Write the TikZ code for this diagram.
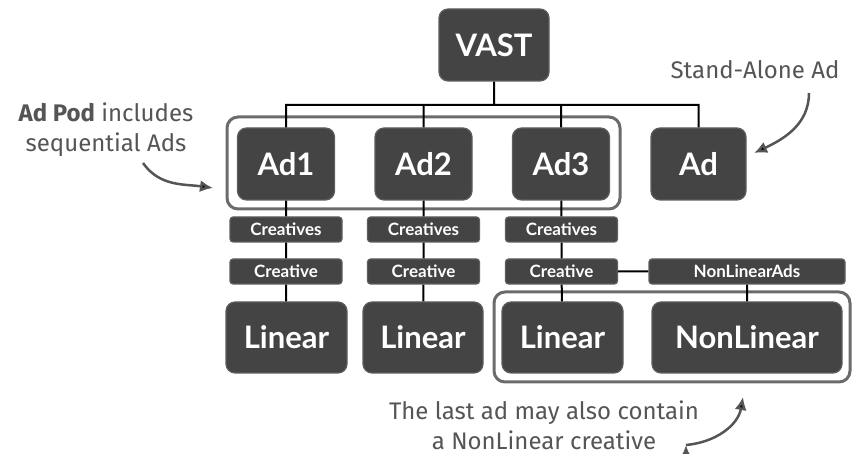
\documentclass[tikz,border=0pt]{standalone}
\usepackage{fontspec}
\setmainfont{Lato}
\newfontfamily\notefont{Fira Sans}
\usetikzlibrary{arrows.meta}
\definecolor{boxgray}{HTML}{444444}
\definecolor{boxedge}{HTML}{5E5E5E}
\definecolor{podgray}{HTML}{6B6B6B}
\definecolor{notegray}{HTML}{555555}

\begin{document}
\begin{tikzpicture}[x=1pt,y=-1pt,
	box/.style={draw=boxedge,fill=boxgray,line width=1.2pt,rounded corners=9pt,text=white,inner sep=0pt},
	bigbox/.style={box,minimum height=72pt,font=\fontsize{31}{31}\selectfont\bfseries},
	tag/.style={box,rounded corners=3pt,minimum width=112pt,minimum height=25pt,font=\fontsize{17}{17}\selectfont\bfseries},
	pod/.style={draw=podgray,line width=3pt,rounded corners=11pt,inner sep=0pt},
	wire/.style={draw=black,line width=2pt},
	note/.style={text=notegray,font=\notefont\fontsize{24}{30}\selectfont,align=center},
	pointer/.style={draw=notegray,line width=2.5pt,-{Latex[length=13pt,width=12pt]}}]
	\useasboundingbox (0,0) rectangle (852,454);
	        \node[pod,minimum width=393pt,minimum height=92pt] at (423.5,163) (adpod) {};
	        \node[pod,minimum width=356pt,minimum height=90pt] at (672,337) (lastpod) {};
		
	        \node[bigbox,minimum width=110pt] at (494,45)   (vast) {VAST};
	        \node[bigbox,minimum width=97pt] at (286,164)  (ad1) {Ad1};
	        \node[bigbox,minimum width=97pt] at (423.5,164)  (ad2) {Ad2};
	        \node[bigbox,minimum width=97pt] at (561,164)  (ad3) {Ad3};
	        \node[bigbox,minimum width=95pt] at (698.5,164)  (ad) {Ad};
		
	        \node[tag] at (286,229.5)  (cs1) {Creatives};
	        \node[tag] at (423.5,229.5)  (cs2) {Creatives};
	        \node[tag] at (561.5,229.5)  (cs3) {Creatives};
	        \node[tag] at (286,271.5)  (c1) {Creative};
	        \node[tag] at (423.5,271.5)  (c2) {Creative};
	        \node[tag] at (561.5,271.5)  (c3) {Creative};
	        \node[tag,minimum width=196pt] at (747,271.5)  (nla) {NonLinearAds};
		
	        \node[bigbox,minimum width=121pt,minimum height=71pt] at (286.5,337.5)  (lin1) {Linear};
	        \node[bigbox,minimum width=120pt,minimum height=71pt] at (423,337.5)  (lin2) {Linear};
	        \node[bigbox,minimum width=121pt,minimum height=71pt] at (562.5,337.5)  (lin3) {Linear};
	        \node[bigbox,minimum width=190pt,minimum height=71pt] at (747,337.5)  (nonlin) {NonLinear};
		
		\coordinate (bus) at (494,105);
		\path[wire] (vast) -- (bus)
				(bus) -| (ad1) (bus) -| (ad2) (bus) -| (ad3) (bus) -| (ad)
				(ad1) -- (cs1) (cs1) -- (c1) (c1) -- (lin1)
				(ad2) -- (cs2) (cs2) -- (c2) (c2) -- (lin2)
				(ad3) -- (cs3) (cs3) -- (c3) (c3) -- (lin3)
				(c3) -- (nla) (nla) -- (nonlin);
		
	        \node[note] at (106,130) (podnote) {{\bfseries Ad Pod} includes\\sequential Ads};
	        \node[note] at (755,70) (standnote) {Stand-Alone Ad};
	        \node[note] at (544,425) (lastnote) {The last ad may also contain\\a NonLinear creative};
		
		\coordinate (podfrom) at (143,163);
		\coordinate (podto) at (213,188);
		\coordinate (standfrom) at (809,93);
		\coordinate (standto) at (754,153);
		\coordinate (lastfrom) at (686,445);
		\coordinate (lastto) at (743,397);
		\path[pointer] (podfrom) edge[out=-55,in=172] (podto)
				(standfrom) edge[out=-90,in=25] (standto)
				(lastfrom) edge[out=5,in=-100] (lastto);
		\end{tikzpicture}
\end{document}
